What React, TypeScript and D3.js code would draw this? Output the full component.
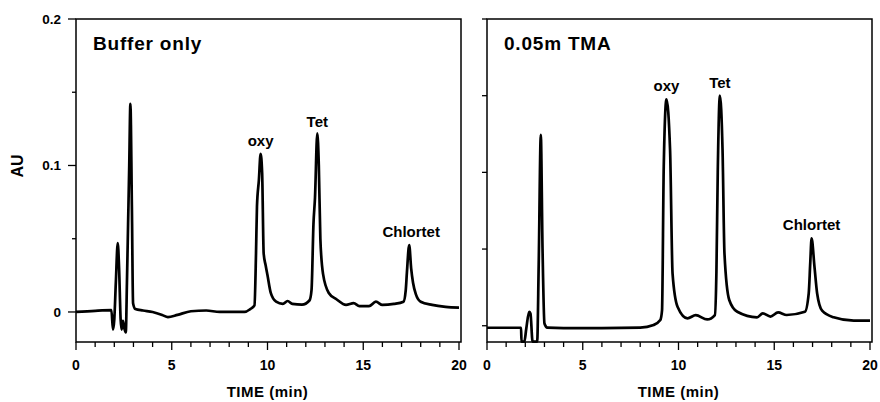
import React from 'react';
import * as d3 from 'd3';

// retention time (min) and absorbance (AU)
const bufferTime = [0, 1.0, 1.85, 1.93, 2.0, 2.08, 2.18, 2.25, 2.33, 2.38, 2.45, 2.52, 2.6, 2.66, 2.72, 2.78, 2.84, 2.92, 2.98, 3.1, 3.5, 4.0, 4.5, 4.8, 5.3, 6.0, 6.8, 7.5, 8.8, 9.1, 9.32, 9.4, 9.45, 9.55, 9.64, 9.72, 9.8, 9.9, 10.0, 10.17, 10.45, 10.8, 11.05, 11.3, 11.8, 12.2, 12.3, 12.4, 12.48, 12.6, 12.68, 12.76, 12.9, 13.2, 13.6, 14.1, 14.5, 14.8, 15.3, 15.66, 16.0, 16.6, 17.1, 17.22, 17.28, 17.4, 17.5, 17.6, 17.75, 18.0, 18.6, 19.3, 20.0];
const bufferAU = [0, 0.0008, 0.0012, -0.012, -0.005, 0.02, 0.047, 0.03, -0.005, -0.012, -0.006, -0.011, -0.014, 0.02, 0.06, 0.1, 0.142, 0.07, 0.006, 0.002, 0.001, 0.0, -0.002, -0.0035, -0.002, 0.0005, 0.001, 0.0, 0.0, 0.002, 0.0045, 0.04, 0.072, 0.09, 0.108, 0.095, 0.04, 0.032, 0.025, 0.013, 0.007, 0.0055, 0.0075, 0.0055, 0.005, 0.008, 0.015, 0.06, 0.078, 0.122, 0.1, 0.05, 0.026, 0.013, 0.0087, 0.0048, 0.006, 0.004, 0.004, 0.007, 0.0048, 0.0055, 0.007, 0.015, 0.027, 0.0457, 0.03, 0.02, 0.012, 0.007, 0.0048, 0.0035, 0.003];

const tmaTime = [0, 1.0, 1.78, 1.8, 1.95, 2.05, 2.2, 2.27, 2.38, 2.5, 2.62, 2.7, 2.81, 2.9, 3.0, 3.15, 4, 6, 8.0, 8.7, 9.05, 9.14, 9.23, 9.37, 9.56, 9.69, 9.95, 10.47, 10.9, 11.5, 11.9, 11.98, 12.05, 12.16, 12.3, 12.4, 12.65, 13.07, 14.1, 14.4, 14.8, 15.2, 15.65, 16.6, 16.8, 16.88, 16.95, 17.1, 17.24, 17.5, 18.1, 19.15, 20];
const tmaAU = [-0.0013, -0.0013, -0.0013, -0.0104, -0.0104, -0.002, 0.009, 0.008, -0.0104, -0.0104, -0.0104, 0.04, 0.1244, 0.05, 0.0015, -0.0012, -0.0015, -0.0015, -0.0012, 0.0005, 0.0037, 0.01, 0.104, 0.1476, 0.1146, 0.034, 0.0124, 0.0048, 0.0069, 0.0041, 0.007, 0.035, 0.1, 0.15, 0.1146, 0.0472, 0.0168, 0.0091, 0.0055, 0.0081, 0.006, 0.0087, 0.007, 0.0091, 0.0211, 0.041, 0.057, 0.0385, 0.021, 0.0098, 0.0055, 0.0033, 0.0033];

const peakNames = ['oxy', 'Tet', 'Chlortet'];
const bufferPeaks = [[9.64, 0.108], [12.6, 0.122], [17.4, 0.0457]];
const tmaPeaks = [[9.37, 0.1476], [12.16, 0.15], [16.95, 0.057]];

const xTicks = [0, 5, 10, 15, 20];
const yTicks = [0, 0.1, 0.2];
const yMinor = [0.05, 0.15];

const font = '"Liberation Sans", Arial, Helvetica, sans-serif';

const Panel = ({ left, right, yMin, title, time, au, peaks, labelGap, labelShift, showLabels }) => {
  const top = 19;
  const bottom = 342;
  const x = d3.scaleLinear().domain([0, 20]).range([left, right]);
  const y = d3.scaleLinear().domain([yMin, 0.2]).range([bottom, top]);
  const pts = time.map((t, i) => [t, au[i]]);
  const line = d3.line().x(d => x(d[0])).y(d => y(d[1])).curve(d3.curveMonotoneX);
  const minor = d3.range(0, 21, 1);

  return (
    <g fontFamily={font} fontWeight="bold" fill="#000">
      <rect x={left} y={top} width={right - left + 2} height={bottom - top} fill="none" stroke="#000" strokeWidth={1.5} />
      {minor.map(t => (
        <line key={'m' + t} x1={x(t)} x2={x(t)} y1={bottom} y2={bottom + (t % 5 === 0 ? 8 : 5)} stroke="#000" strokeWidth={1.3} />
      ))}
      {xTicks.map(t => (
        <text key={'xt' + t} x={x(t)} y={370} textAnchor="middle" fontSize={14}>{t}</text>
      ))}
      {yTicks.map(v => (
        <line key={'y' + v} x1={left} x2={left - (showLabels ? 8 : 5)} y1={y(v)} y2={y(v)} stroke="#000" strokeWidth={1.3} />
      ))}
      {yMinor.map(v => (
        <line key={'ym' + v} x1={left} x2={left - (showLabels ? 4 : 5)} y1={y(v)} y2={y(v)} stroke="#000" strokeWidth={1.3} />
      ))}
      {showLabels && yTicks.map(v => (
        <text key={'yl' + v} x={left - 15} y={y(v)} dy="0.35em" textAnchor="end" fontSize={13.5}>{v === 0 ? '0' : v.toFixed(1)}</text>
      ))}
      <text x={(left + right) / 2} y={397} textAnchor="middle" fontSize={15} letterSpacing={0.5}>TIME (min)</text>
      <text x={left + 17} y={50} fontSize={19} letterSpacing={0.8}>{title}</text>
      <path d={line(pts)} fill="none" stroke="#000" strokeWidth={2.7} strokeLinejoin="round" />
      {peaks.map((p, i) => (
        <text key={'p' + i} x={x(p[0]) + labelShift[i]} y={y(p[1]) - labelGap[i]} textAnchor="middle" fontSize={15}>{peakNames[i]}</text>
      ))}
    </g>
  );
};

export default function App() {
  return (
    <svg width={880} height={402} style={{ position: 'absolute', left: 0, top: 0, background: '#fff' }}>
      <rect width={880} height={402} fill="#fff" />
      <text x={17} y={166} transform="rotate(-90 17 166)" textAnchor="middle" dy="0.35em"
        fontFamily={font} fontWeight="bold" fontSize={16}>AU</text>
      <Panel left={76} right={459} yMin={-0.0205} title="Buffer only" time={bufferTime} au={bufferAU}
        peaks={bufferPeaks} labelGap={[8, 6, 8]} labelShift={[0, 0, 2]} showLabels={true} />
      <Panel left={487} right={870} yMin={-0.0106} title="0.05m TMA" time={tmaTime} au={tmaAU}
        peaks={tmaPeaks} labelGap={[8, 8, 8]} labelShift={[0, 0, 0]} showLabels={false} />
    </svg>
  );
}
